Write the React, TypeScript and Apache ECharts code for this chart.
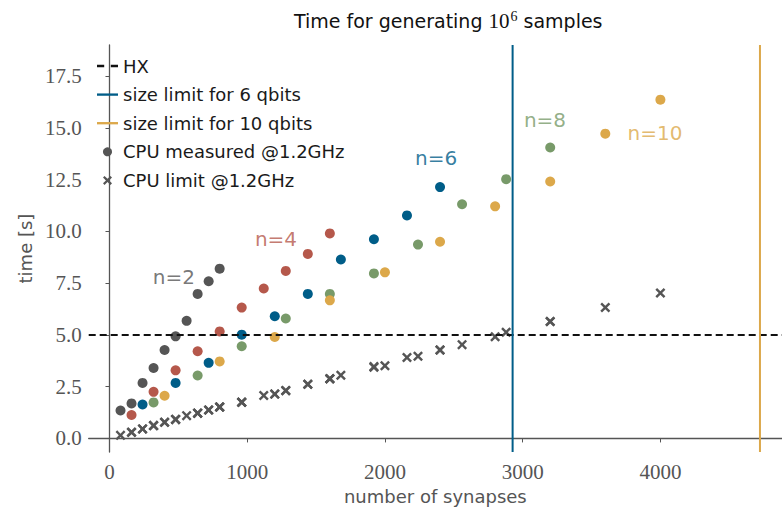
import React, { useEffect, useRef } from "react";
import * as echarts from "echarts";

// ---- data ----
const n2X = [80, 160, 240, 320, 400, 480, 560, 640, 720, 800];
const n2Y = [1.35, 1.69, 2.68, 3.4, 4.27, 4.93, 5.68, 6.98, 7.59, 8.2];
const n4X = [160, 320, 480, 640, 800, 960, 1120, 1280, 1440, 1600];
const n4Y = [1.13, 2.25, 3.29, 4.21, 5.17, 6.32, 7.24, 8.09, 8.91, 9.9];
const n6X = [240, 480, 720, 960, 1200, 1440, 1680, 1920, 2160, 2400];
const n6Y = [1.64, 2.68, 3.65, 5.01, 5.9, 6.98, 8.64, 9.62, 10.77, 12.14];
const n8X = [320, 640, 960, 1280, 1600, 1920, 2240, 2560, 2880, 3200];
const n8Y = [1.74, 3.04, 4.45, 5.79, 6.98, 7.97, 9.36, 11.31, 12.52, 14.05];
const n10X = [400, 800, 1200, 1600, 2000, 2400, 2800, 3200, 3600, 4000];
const n10Y = [2.06, 3.72, 4.9, 6.67, 8.02, 9.5, 11.21, 12.41, 14.72, 16.36];

// CPU limit (crosses) for each n, same x positions
const lim2Y = [0.15, 0.3, 0.46, 0.62, 0.78, 0.92, 1.1, 1.22, 1.37, 1.52];
const lim4Y = [0.3, 0.62, 0.92, 1.22, 1.52, 1.75, 2.07, 2.32, 2.62, 2.88];
const lim6Y = [0.46, 0.92, 1.37, 1.75, 2.14, 2.62, 3.05, 3.44, 3.91, 4.27];
const lim8Y = [0.62, 1.22, 1.75, 2.3, 2.88, 3.47, 3.97, 4.53, 5.13, 5.65];
const lim10Y = [0.78, 1.52, 2.14, 2.88, 3.51, 4.27, 4.91, 5.65, 6.32, 7.02];

const hxLevel = 5.0;
const limit6 = 2927;
const limit10 = 4723;

const xRange = [-151, 4883];
const yRange = [-0.66, 19.0];
const xTicks = [0, 1000, 2000, 3000, 4000];
const yTicks = [0, 2.5, 5, 7.5, 10, 12.5, 15, 17.5];

const nLabels = ["n=2", "n=4", "n=6", "n=8", "n=10"];
const nLabelX = [468, 1209, 2371, 3162, 3961];
const nLabelY = [7.8, 9.62, 13.54, 15.36, 14.74];

const GRAY = "#555555";
const RED = "#b5584b";
const BLUE = "#005d88";
const GREEN = "#789a69";
const ORANGE = "#dca84a";
const nColors = [GRAY, RED, BLUE, GREEN, ORANGE];

const CROSS =
  "path://M1.7,0 L5,3.3 L8.3,0 L10,1.7 L6.7,5 L10,8.3 L8.3,10 L5,6.7 L1.7,10 L0,8.3 L3.3,5 L0,1.7 Z";
const SOLID_ICON = "path://M0,0 H18 V2 H0 Z";
const DASH_ICON = "path://M0,0 H6 V2 H0 Z M11.5,0 H17.5 V2 H11.5 Z";

const SANS = "DejaVu Sans";
const SERIF = "Liberation Serif";

function zip(xs: number[], ys: number[]) {
  return xs.map((x, i) => [x, ys[i]]);
}

export default function App() {
  const ref = useRef<HTMLDivElement>(null);
  useEffect(() => {
    if (!ref.current) return;
    const chart = echarts.init(ref.current, undefined, { renderer: "svg" });

    const measured = [
      zip(n2X, n2Y),
      zip(n4X, n4Y),
      zip(n6X, n6Y),
      zip(n8X, n8Y),
      zip(n10X, n10Y),
    ];
    const limits = [
      ...zip(n2X, lim2Y),
      ...zip(n4X, lim4Y),
      ...zip(n6X, lim6Y),
      ...zip(n8X, lim8Y),
      ...zip(n10X, lim10Y),
    ];

    const option: any = {
      animation: false,
      backgroundColor: "#ffffff",
      title: {
        left: 289,
        top: 4,
        text: "{a|Time for generating }{b|10}{c|6}{a| samples}",
        textStyle: {
          fontWeight: "normal",
          rich: {
            a: { fontFamily: SANS, fontSize: 19, color: "#111", fontWeight: "normal" },
            b: { fontFamily: SERIF, fontSize: 21, color: "#111", fontWeight: "normal" },
            c: { fontFamily: SERIF, fontSize: 14, color: "#111", fontWeight: "normal", padding: [0, 0, 10, 1] },
          },
        },
      },
      legend: {
        left: 92,
        top: 51,
        orient: "vertical",
        itemWidth: 21,
        itemHeight: 9,
        itemGap: 8.6,
        textStyle: { fontFamily: SANS, fontSize: 18, color: "#1a1a1a", lineHeight: 20 },
        data: [
          { name: "HX", icon: DASH_ICON, itemStyle: { color: "#111" } },
          { name: "size limit for 6 qbits", icon: SOLID_ICON, itemStyle: { color: BLUE } },
          { name: "size limit for 10 qbits", icon: SOLID_ICON, itemStyle: { color: ORANGE } },
          { name: "CPU measured @1.2GHz", icon: "circle" },
          { name: "CPU limit @1.2GHz", icon: CROSS },
        ],
      },
      grid: { left: 88.7, right: 0, top: 45, bottom: 54.3, containLabel: false },
      xAxis: {
        type: "value",
        min: xRange[0],
        max: xRange[1],
        name: "number of synapses",
        nameLocation: "middle",
        nameGap: 33,
        nameTextStyle: { fontFamily: SANS, fontSize: 18, color: GRAY, verticalAlign: "top" },
        splitLine: { show: false },
        axisLine: { show: true, lineStyle: { color: GRAY, width: 1.3 } },
        axisTick: { show: true, length: 4, customValues: xTicks, lineStyle: { color: GRAY, width: 1 } },
        axisLabel: {
          customValues: xTicks,
          margin: 9,
          fontFamily: SERIF,
          fontSize: 21,
          color: GRAY,
          formatter: (v: number) => String(v),
        },
      },
      yAxis: {
        type: "value",
        min: yRange[0],
        max: yRange[1],
        name: "time [s]",
        nameLocation: "middle",
        nameGap: 52,
        nameTextStyle: { fontFamily: SANS, fontSize: 18, color: GRAY },
        splitLine: { show: false },
        axisLine: { show: true, lineStyle: { color: GRAY, width: 1.3 } },
        axisTick: { show: true, length: 4, customValues: yTicks, lineStyle: { color: GRAY, width: 1 } },
        axisLabel: {
          customValues: yTicks,
          margin: 7,
          fontFamily: SERIF,
          fontSize: 21,
          color: GRAY,
          formatter: (v: number) => v.toFixed(1),
        },
      },
      series: [
        {
          name: "CPU limit @1.2GHz",
          type: "scatter",
          symbol: CROSS,
          symbolSize: 10,
          itemStyle: { color: GRAY, opacity: 1 },
          data: limits,
          z: 3,
        },
        ...measured.map((d, i) => ({
          name: "measured n" + i,
          type: "scatter",
          symbol: "circle",
          symbolSize: 10,
          itemStyle: { color: nColors[i], opacity: 1 },
          data: d,
          z: 3,
        })),
        {
          name: "CPU measured @1.2GHz",
          type: "scatter",
          symbol: "circle",
          symbolSize: 10,
          itemStyle: { color: GRAY, opacity: 1 },
          data: [],
        },
        {
          name: "HX",
          type: "line",
          symbol: "none",
          lineStyle: { color: "#111", width: 2, type: [7, 4] },
          itemStyle: { color: "#111" },
          data: [
            [xRange[0], hxLevel],
            [xRange[1], hxLevel],
          ],
          z: 4,
        },
        {
          name: "size limit for 6 qbits",
          type: "line",
          symbol: "none",
          lineStyle: { color: BLUE, width: 2 },
          itemStyle: { color: BLUE },
          data: [
            [limit6, yRange[0]],
            [limit6, yRange[1]],
          ],
          z: 4,
        },
        {
          name: "size limit for 10 qbits",
          type: "line",
          symbol: "none",
          lineStyle: { color: ORANGE, width: 2 },
          itemStyle: { color: ORANGE },
          data: [
            [limit10, yRange[0]],
            [limit10, yRange[1]],
          ],
          z: 4,
        },
        {
          name: "labels",
          type: "scatter",
          symbolSize: 0,
          silent: true,
          data: nLabels.map((t, i) => ({
            value: [nLabelX[i], nLabelY[i]],
            label: {
              show: true,
              position: "inside",
              formatter: t,
              fontFamily: SANS,
              fontSize: 20,
              color: nColors[i],
            },
          })),
          z: 5,
        },
      ],
    };
    chart.setOption(option);
    return () => chart.dispose();
  }, []);
  return <div ref={ref} style={{ width: 782, height: 510, position: "absolute", left: 0, top: 0 }} />;
}
